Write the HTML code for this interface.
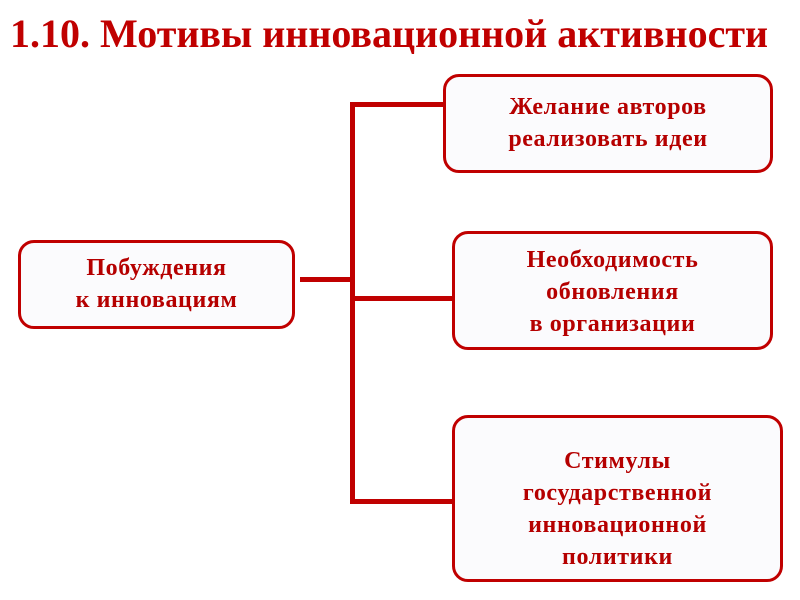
<!DOCTYPE html>
<html><head><meta charset="utf-8"><style>
body{margin:0;width:800px;height:600px;background:#fff;position:relative;overflow:hidden;font-family:"Liberation Serif",serif;color:#b50000;}
.t{position:absolute;left:10px;top:10px;font-size:40px;font-weight:bold;color:#c00000;white-space:nowrap;}
.b{position:absolute;box-sizing:border-box;border:3px solid #c00000;border-radius:16px;background:#fbfbfd;display:flex;align-items:center;justify-content:center;text-align:center;font-weight:bold;font-size:24px;letter-spacing:0.6px;line-height:32px;}
.l{position:absolute;background:#c00000;}
</style></head><body>
<div class="t">1.10. Мотивы инновационной активности</div>
<div class="l" style="left:300px;top:277px;width:53px;height:5px"></div>
<div class="l" style="left:350px;top:102px;width:5px;height:402px"></div>
<div class="l" style="left:350px;top:102px;width:96px;height:5px"></div>
<div class="l" style="left:350px;top:296px;width:104px;height:5px"></div>
<div class="l" style="left:350px;top:499px;width:104px;height:5px"></div>
<div class="b" style="left:18px;top:240px;width:277px;height:89px;padding-bottom:2px">Побуждения<br>к инновациям</div>
<div class="b" style="left:443px;top:74px;width:330px;height:99px;padding-bottom:2px">Желание авторов<br>реализовать идеи</div>
<div class="b" style="left:452px;top:231px;width:321px;height:119px;padding-top:2px">Необходимость<br>обновления<br>в организации</div>
<div class="b" style="left:452px;top:415px;width:331px;height:167px;padding-top:20px">Стимулы<br>государственной<br>инновационной<br>политики</div>
</body></html>
